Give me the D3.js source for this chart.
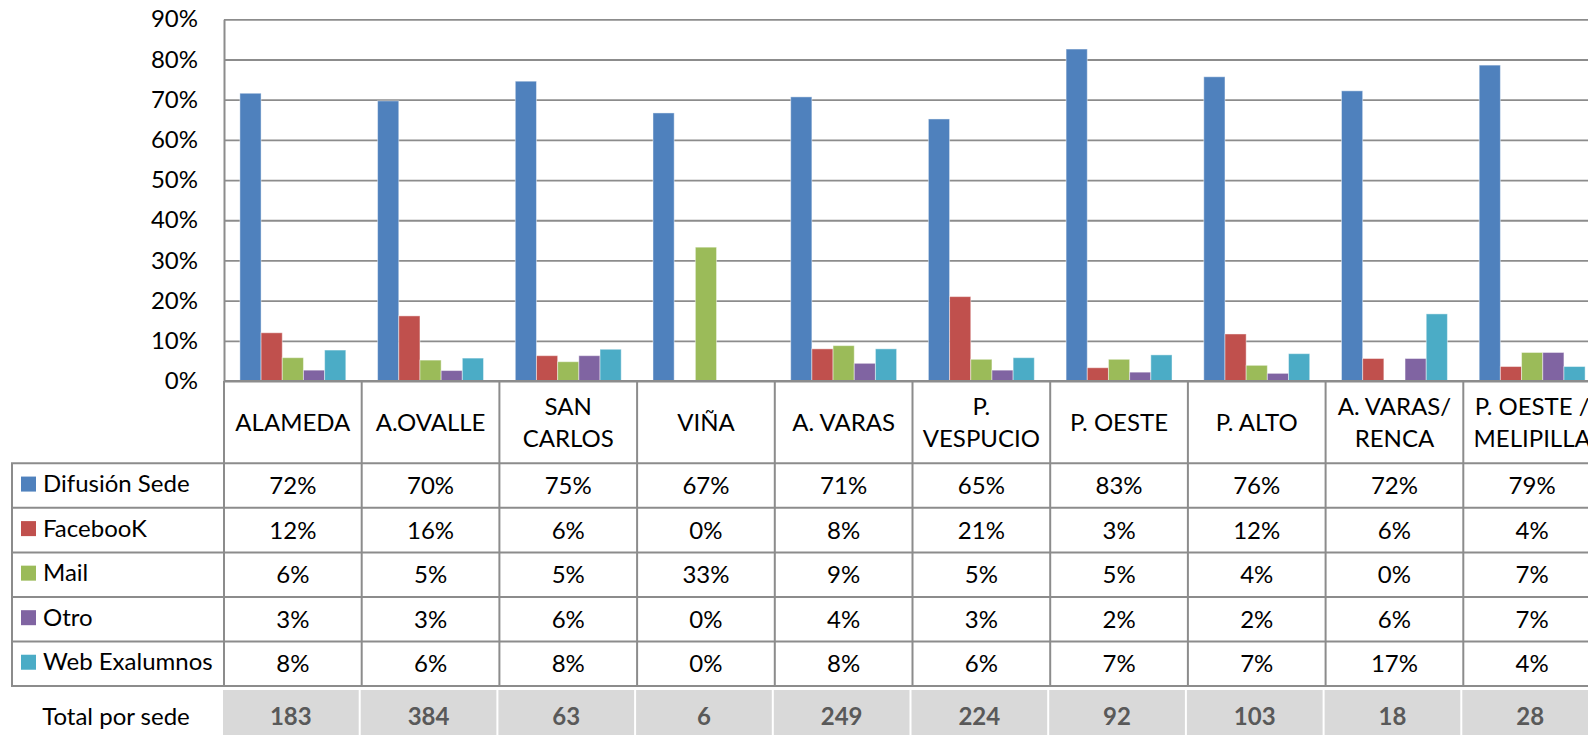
<!DOCTYPE html>
<html>
<head>
<meta charset="utf-8">
<script src="https://cdn.jsdelivr.net/npm/d3@7"></script>
<style>
  body { margin: 0; background: #fff; overflow: hidden; }
  svg { display: block; font-family: Lato, "Open Sans", sans-serif; }
</style>
</head>
<body>
<div id="chart"></div>
<script>
// categories (sedes), header lines for the data table
var categories = ["ALAMEDA", "A.OVALLE", "SAN CARLOS", "VIÑA", "A. VARAS", "P. VESPUCIO", "P. OESTE", "P. ALTO", "A. VARAS/ RENCA", "P. OESTE / MELIPILLA"];
var categoryLines = [["ALAMEDA"], ["A.OVALLE"], ["SAN", "CARLOS"], ["VIÑA"], ["A. VARAS"], ["P.", "VESPUCIO"], ["P. OESTE"], ["P. ALTO"], ["A. VARAS/", "RENCA"], ["P. OESTE /", "MELIPILLA"]];

// series
var seriesNames = ["Difusión Sede", "FacebooK", "Mail", "Otro", "Web Exalumnos"];
var seriesColors = ["#4f81bd", "#c0504d", "#9bbb59", "#8064a2", "#4bacc6"];

var difusionSede = [0.716, 0.697, 0.746, 0.667, 0.707, 0.652, 0.826, 0.757, 0.722, 0.786];
var facebook     = [0.120, 0.162, 0.063, 0.000, 0.080, 0.210, 0.033, 0.117, 0.056, 0.036];
var mail         = [0.058, 0.052, 0.048, 0.333, 0.088, 0.054, 0.054, 0.039, 0.000, 0.071];
var otro         = [0.027, 0.026, 0.063, 0.000, 0.044, 0.027, 0.022, 0.019, 0.056, 0.071];
var webExalumnos = [0.077, 0.057, 0.079, 0.000, 0.080, 0.058, 0.065, 0.068, 0.167, 0.036];
var seriesValues = [difusionSede, facebook, mail, otro, webExalumnos];

var totals = [183, 384, 63, 6, 249, 224, 92, 103, 18, 28];
var yTicks = [0, 0.1, 0.2, 0.3, 0.4, 0.5, 0.6, 0.7, 0.8, 0.9];

// layout
var W = 1588, H = 735;
var plotLeft = 224, colWidth = 137.7;
var plotTop = 19.3, plotBottom = 381;
var headerBottom = 463.3, tableBottom = 686;
var tableLeft = 12;
var lineColor = "#8c8c8c";
var fontSize = 24;

var svg = d3.select("#chart").append("svg")
  .attr("width", W).attr("height", H);

var x0 = d3.scaleBand().domain(categories)
  .range([plotLeft, plotLeft + colWidth * categories.length])
  .paddingInner(0).paddingOuter(0);
var x1 = d3.scaleBand().domain(seriesNames)
  .range([0, x0.bandwidth()])
  .paddingInner(0).paddingOuter(0.75);
var y = d3.scaleLinear().domain([0, 0.9]).range([plotBottom, plotTop]);
var rowY = d3.scaleBand().domain(seriesNames).range([headerBottom, tableBottom]);
var pct = d3.format(".0%");

// Y axis with gridlines
var yAxis = svg.append("g")
  .attr("transform", "translate(" + plotLeft + ",0)")
  .call(d3.axisLeft(y).tickValues(yTicks).tickFormat(pct)
    .tickSize(-(W - plotLeft)).tickSizeOuter(0).tickPadding(26));
yAxis.select(".domain").attr("stroke", lineColor).attr("stroke-width", 2);
yAxis.selectAll(".tick line").attr("stroke", lineColor).attr("stroke-width", 1.8);
yAxis.selectAll(".tick text")
  .attr("fill", "#000").style("font-size", fontSize + "px")
  .style("font-family", "Lato, sans-serif");

// bars
svg.append("g")
  .selectAll("g")
  .data(categories).enter().append("g")
  .attr("transform", function(d) { return "translate(" + x0(d) + ",0)"; })
  .selectAll("rect")
  .data(function(d, i) { return seriesNames.map(function(s, k) { return {key: s, value: seriesValues[k][i], color: seriesColors[k]}; }); })
  .enter().append("rect")
  .attr("x", function(d) { return x1(d.key); })
  .attr("y", function(d) { return y(d.value); })
  .attr("width", x1.bandwidth())
  .attr("height", function(d) { return plotBottom - y(d.value); })
  .attr("fill", function(d) { return d.color; })
  .attr("stroke", "rgba(255,255,255,0.45)")
  .attr("stroke-width", 1);

// table lines
var table = svg.append("g");
var colEdges = categories.map(function(c) { return x0(c); }).concat([x0(categories[categories.length - 1]) + colWidth]);
table.selectAll("line.v")
  .data(colEdges).enter().append("line")
  .attr("x1", function(d) { return d; }).attr("x2", function(d) { return d; })
  .attr("y1", plotBottom).attr("y2", tableBottom)
  .attr("stroke", lineColor).attr("stroke-width", 2);
table.append("line")
  .attr("x1", tableLeft).attr("x2", tableLeft)
  .attr("y1", headerBottom).attr("y2", tableBottom)
  .attr("stroke", lineColor).attr("stroke-width", 2);
var rowEdges = seriesNames.map(function(s) { return rowY(s); }).concat([tableBottom]);
table.selectAll("line.h")
  .data(rowEdges).enter().append("line")
  .attr("x1", tableLeft - 1).attr("x2", W)
  .attr("y1", function(d) { return d; }).attr("y2", function(d) { return d; })
  .attr("stroke", lineColor).attr("stroke-width", 2);
// baseline over bars
svg.append("line")
  .attr("x1", plotLeft).attr("x2", W)
  .attr("y1", plotBottom).attr("y2", plotBottom)
  .attr("stroke", lineColor).attr("stroke-width", 2);

// header: category names
var headerMid = (plotBottom + headerBottom) / 2;
var header = svg.append("g").selectAll("text")
  .data(categories).enter().append("text")
  .attr("x", function(d) { return x0(d) + colWidth / 2; })
  .attr("y", function(d, i) { return headerMid - (categoryLines[i].length - 1) * 16; })
  .attr("text-anchor", "middle")
  .style("font-size", fontSize + "px")
  .attr("fill", "#000");
header.selectAll("tspan")
  .data(function(d, i) { return categoryLines[i]; }).enter().append("tspan")
  .attr("x", function() { return d3.select(this.parentNode).attr("x"); })
  .attr("dy", function(d, j) { return j === 0 ? "0.35em" : "32px"; })
  .text(function(d) { return d; });

// legend column
var legend = svg.append("g").selectAll("g")
  .data(seriesNames).enter().append("g")
  .attr("transform", function(d) { return "translate(0," + (rowY(d) + rowY.bandwidth() / 2) + ")"; });
legend.append("rect")
  .attr("x", 21).attr("y", -9).attr("width", 15).attr("height", 15)
  .attr("fill", function(d, i) { return seriesColors[i]; });
legend.append("text")
  .attr("x", 43).attr("y", -2).attr("dy", "0.35em")
  .style("font-size", fontSize + "px")
  .text(function(d) { return d; });

// cell values
seriesNames.forEach(function(s, k) {
  svg.append("g").selectAll("text")
    .data(seriesValues[k]).enter().append("text")
    .attr("x", function(d, i) { return x0(categories[i]) + colWidth / 2; })
    .attr("y", rowY(s) + rowY.bandwidth() / 2)
    .attr("dy", "0.35em")
    .attr("text-anchor", "middle")
    .style("font-size", fontSize + "px")
    .text(function(d) { return pct(d); });
});

// totals row
var totalTop = 690;
svg.append("text")
  .attr("x", 116).attr("y", 717).attr("dy", "0.35em")
  .attr("text-anchor", "middle")
  .style("font-size", fontSize + "px")
  .text("Total por sede");
var tot = svg.append("g").selectAll("g")
  .data(totals).enter().append("g")
  .attr("transform", function(d, i) { return "translate(" + x0(categories[i]) + "," + totalTop + ")"; });
tot.append("rect")
  .attr("x", -1).attr("y", 0).attr("width", colWidth - 2).attr("height", 50)
  .attr("fill", "#d9d9d9");
tot.append("text")
  .attr("x", colWidth / 2 - 2).attr("y", 27).attr("dy", "0.35em")
  .attr("text-anchor", "middle")
  .style("font-size", fontSize + "px").style("font-weight", "bold")
  .attr("fill", "#595959")
  .text(function(d) { return d; });
</script>
</body>
</html>
